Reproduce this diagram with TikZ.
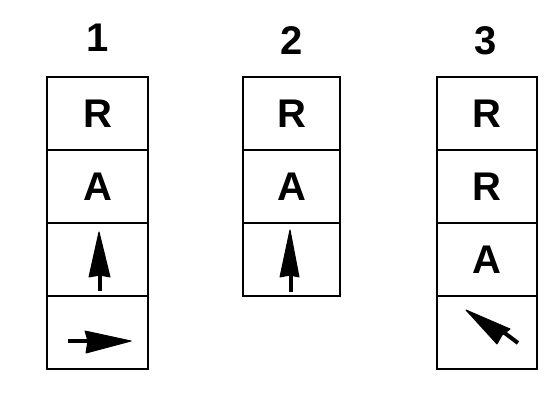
\documentclass[tikz,border=0pt]{standalone}
\usepackage{fontspec}
\setmainfont{Liberation Sans}
\begin{document}
\begin{tikzpicture}[x=1pt,y=-1pt,
  cell/.style={draw,line width=2.4pt,inner sep=0pt,minimum height=73pt,
    font=\fontsize{40}{40}\selectfont\bfseries},
  numlabel/.style={inner sep=0pt,font=\fontsize{40}{40}\selectfont\bfseries},
  shaft/.style={line width=4pt},
  head/.style={fill=black,draw=black,line width=1pt,line join=round}]
\useasboundingbox (0,0) rectangle (554,393);
% column 1
\node[numlabel] (n1) at (98,38) {1};
\node[cell,minimum width=101pt] (a1) at (97.5,113.5) {R};
\node[cell,minimum width=101pt] (a2) at (97.5,186.5) {A};
\node[cell,minimum width=101pt] (a3) at (97.5,259.5) {};
\node[cell,minimum width=101pt] (a4) at (97.5,332.5) {};
% column 2
\node[numlabel] (n2) at (292,41) {2};
\node[cell,minimum width=97pt] (b1) at (291.5,113.5) {R};
\node[cell,minimum width=97pt] (b2) at (291.5,186.5) {A};
\node[cell,minimum width=97pt] (b3) at (291.5,259.5) {};
% column 3
\node[numlabel] (n3) at (486,41) {3};
\node[cell,minimum width=100pt] (c1) at (487,113.5) {R};
\node[cell,minimum width=100pt] (c2) at (487,186.5) {R};
\node[cell,minimum width=100pt] (c3) at (487,259.5) {A};
\node[cell,minimum width=100pt] (c4) at (487,332.5) {};
% arrows
\draw[shaft] (100,291) -- (100,272);
\draw[head] (99,232) -- (110,277) -- (100,275) -- (89,277) -- cycle;
\draw[shaft] (291,292) -- (291,272);
\draw[head] (290,230) -- (299,277) -- (290,275) -- (280,277) -- cycle;
\draw[shaft] (68,341) -- (90,341);
\draw[head] (131,341) -- (86,353) -- (88,341) -- (85,331) -- cycle;
\draw[shaft] (518,343) -- (502,331);
\draw[head] (466,310) -- (510,329) -- (502,335) -- (497,344) -- cycle;
\end{tikzpicture}
\end{document}
